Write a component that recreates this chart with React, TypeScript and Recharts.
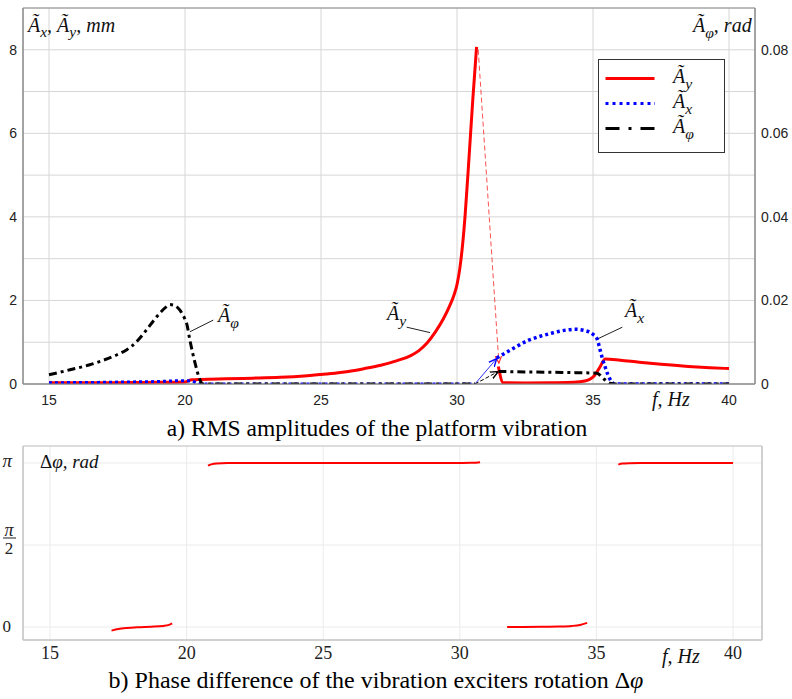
import React from 'react';
import { LineChart, Line, XAxis, YAxis, CartesianGrid, ReferenceArea, ReferenceLine, Legend } from 'recharts';

// ---------- top chart (a): RMS amplitudes ----------
// A_y, mm (low-frequency branch up to the resonance peak)
const ayLowF = [15, 16, 17, 18, 19, 20, 20.25, 20.6, 21.5, 22.5, 23.5, 24.5, 25.2, 26, 26.6, 27.2, 27.8, 28.3, 28.6, 28.9, 29.2, 29.5, 29.75, 29.9, 30.0, 30.1, 30.2, 30.3, 30.42, 30.58, 30.72];
const ayLowV = [0.03, 0.03, 0.03, 0.035, 0.04, 0.05, 0.1, 0.11, 0.125, 0.14, 0.16, 0.2, 0.24, 0.3, 0.37, 0.45, 0.56, 0.68, 0.8, 0.98, 1.24, 1.56, 1.9, 2.15, 2.38, 2.75, 3.3, 4.05, 5.2, 6.8, 8.07];
// A_y, mm (branch after the jump)
const ayHighF = [31.52, 31.7, 32.5, 33.5, 34.3, 34.7, 34.9, 35.05, 35.25, 35.45, 36.0, 36.7, 37.5, 38.5, 39.3, 40];
const ayHighV = [0.42, 0.03, 0.025, 0.03, 0.04, 0.07, 0.12, 0.2, 0.4, 0.6, 0.57, 0.52, 0.47, 0.42, 0.39, 0.37];
// A_x, mm
const axLowF = [15, 16, 17, 18, 19, 20, 20.25, 20.45, 20.6, 25, 30.66];
const axLowV = [0.03, 0.035, 0.04, 0.05, 0.06, 0.08, 0.07, 0.02, 0, 0, 0];
const axHighF = [31.46, 31.8, 32.2, 32.6, 33.0, 33.5, 34.0, 34.35, 34.7, 35.0, 35.15, 35.26, 35.35, 35.45, 35.55, 35.7, 35.8, 40];
const axHighV = [0.62, 0.75, 0.9, 1.04, 1.13, 1.22, 1.29, 1.31, 1.28, 1.19, 1.08, 0.82, 0.6, 0.4, 0.22, 0.04, 0, 0];
// A_phi, rad
const apLowF = [15, 15.77, 16.5, 17.0, 17.5, 17.86, 18.2, 18.59, 18.85, 19.08, 19.3, 19.45, 19.65, 19.82, 20.0, 20.06, 20.18, 20.37, 20.55, 20.66, 25, 30.66];
const apLowV = [0.0022, 0.0034, 0.0046, 0.0057, 0.007, 0.0082, 0.01, 0.013, 0.0152, 0.017, 0.0184, 0.019, 0.0187, 0.0176, 0.0155, 0.0145, 0.0105, 0.005, 0.001, 0, 0, 0];
const apHighF = [31.52, 32.5, 33.5, 34.5, 35.14, 35.4, 35.62, 35.8, 40];
const apHighV = [0.003, 0.0029, 0.0028, 0.0027, 0.0026, 0.0012, 0.0002, 0, 0];
// jumps (thin arrows)
const jumpYF = [30.78, 31.54];
const jumpYV = [8.0, 0.5];
const jumpXF = [30.66, 31.46];
const jumpXV = [0, 0.61];
const jumpPF = [30.66, 31.52];
const jumpPV = [0, 0.003];

const topXTicks = [15, 20, 25, 30, 35, 40];
const leftTicks = [0, 1, 2, 3, 4, 5, 6, 7, 8];
const leftLabels = [0, 2, 4, 6, 8];
const rightTicks = [0, 0.01, 0.02, 0.03, 0.04, 0.05, 0.06, 0.07, 0.08];
const rightLabels = [0, 0.02, 0.04, 0.06, 0.08];

// ---------- bottom chart (b): phase difference, rad ----------
const PI = Math.PI;
const ph1F = [17.25, 17.5, 17.8, 18.2, 18.7, 19.15, 19.35, 19.47];
const ph1V = [-0.07, -0.04, -0.02, -0.005, 0.005, 0.02, 0.04, 0.07];
const ph2F = [20.78, 20.9, 21.1, 21.5, 23, 25, 27, 29, 30.4, 30.6, 30.74];
const ph2V = [3.09, 3.115, 3.134, 3.1416, 3.1416, 3.1416, 3.1416, 3.1416, 3.144, 3.148, 3.157];
const ph3F = [31.73, 32.2, 33, 33.6, 34.1, 34.4, 34.66];
const ph3V = [-0.002, 0, 0.003, 0.008, 0.02, 0.04, 0.08];
const ph4F = [35.8, 35.95, 36.2, 36.6, 38, 40];
const ph4V = [3.11, 3.13, 3.138, 3.1416, 3.1416, 3.1416];
const phTicks = [0, PI / 2, PI];

const zip = (fs: number[], vs: number[]) => fs.map((f, i) => ({ f, v: vs[i] }));

const ayLow = zip(ayLowF, ayLowV);
const ayHigh = zip(ayHighF, ayHighV);
const axLow = zip(axLowF, axLowV);
const axHigh = zip(axHighF, axHighV);
const apLow = zip(apLowF, apLowV);
const apHigh = zip(apHighF, apHighV);
const jumpY = zip(jumpYF, jumpYV);
const jumpX = zip(jumpXF, jumpXV);
const jumpP = zip(jumpPF, jumpPV);
const ph1 = zip(ph1F, ph1V);
const ph2 = zip(ph2F, ph2V);
const ph3 = zip(ph3F, ph3V);
const ph4 = zip(ph4F, ph4V);

const SERIF = "'Liberation Serif', 'Times New Roman', 'DejaVu Serif', serif";
const SANS = "'Liberation Sans', Arial, sans-serif";

const MathA = ({ x, y, sub, size = 19, anchor = 'start', rest = '' }: any) => (
  <text x={x} y={y} fontFamily={SERIF} fontStyle="italic" fontSize={size} fill="#111" textAnchor={anchor}>
    Ã<tspan dy={size * 0.28} fontSize={size * 0.78}>{sub}</tspan>
    {rest ? <tspan dy={-size * 0.28}>{rest}</tspan> : null}
  </text>
);

const LegendBox = () => (
  <div style={{ width: 127, height: 94, boxSizing: 'border-box', border: '1.5px solid #333', background: '#fff' }}>
    <svg width={124} height={91} style={{ display: 'block' }}>
      <line x1={6.5} x2={55.5} y1={18.5} y2={18.5} stroke="#ff0000" strokeWidth={3} />
      <line x1={6.5} x2={56} y1={43.5} y2={43.5} stroke="#0000ff" strokeWidth={3} strokeDasharray="3 4" />
      <line x1={6.5} x2={56} y1={68.5} y2={68.5} stroke="#000" strokeWidth={3} strokeDasharray="14 9 3 9" />
      <MathA x={74} y={23} sub="y" size={20} />
      <MathA x={74} y={48} sub="x" size={20} />
      <MathA x={74} y={73} sub="φ" size={20} />
    </svg>
  </div>
);

const PhaseTick = (props: any) => {
  const { x, y, payload } = props;
  const v = payload.value;
  if (v === 0) {
    return <text x={x - 10} y={y + 5} textAnchor="end" fontFamily={SERIF} fontSize={17} fill="#222">0</text>;
  }
  if (Math.abs(v - PI) < 1e-6) {
    return <text x={x - 9} y={y + 4} textAnchor="end" fontFamily={SERIF} fontStyle="italic" fontSize={19} fill="#222">π</text>;
  }
  return (
    <g>
      <text x={x - 12} y={y - 9} textAnchor="middle" fontFamily={SERIF} fontStyle="italic" fontSize={18} fill="#222">π</text>
      <line x1={x - 18} x2={x - 5} y1={y - 7} y2={y - 7} stroke="#222" strokeWidth={1} />
      <text x={x - 12} y={y + 9} textAnchor="middle" fontFamily={SERIF} fontSize={17} fill="#222">2</text>
    </g>
  );
};

export default function App() {
  return (
    <div style={{ position: 'absolute', left: 0, top: 0, width: 792, height: 699, background: '#fff', overflow: 'hidden' }}>
      <svg width={0} height={0} style={{ position: 'absolute' }}>
        <defs>
          <marker id="arrRed" viewBox="0 0 10 10" refX="9" refY="5" markerWidth="8" markerHeight="8" orient="auto" markerUnits="userSpaceOnUse">
            <path d="M0,1 L9,5 L0,9" fill="none" stroke="#ff3030" strokeWidth="1.5" />
          </marker>
          <marker id="arrBlue" viewBox="0 0 10 10" refX="9" refY="5" markerWidth="9" markerHeight="9" orient="auto" markerUnits="userSpaceOnUse">
            <path d="M0,1 L9,5 L0,9" fill="none" stroke="#0000ff" strokeWidth="1.5" />
          </marker>
          <marker id="arrBlack" viewBox="0 0 10 10" refX="9" refY="5" markerWidth="9" markerHeight="9" orient="auto" markerUnits="userSpaceOnUse">
            <path d="M0,1 L9,5 L0,9" fill="none" stroke="#000" strokeWidth="1.5" />
          </marker>
        </defs>
      </svg>

      <div style={{ position: 'absolute', left: 0, top: 0 }}>
        <LineChart width={792} height={420} margin={{ top: 8, right: 0, bottom: 0, left: 0 }}>
          <CartesianGrid yAxisId="left" stroke="#d6d6d6" strokeWidth={1} />
          <XAxis dataKey="f" type="number" domain={[14.044, 40.956]} ticks={topXTicks} allowDataOverflow
            height={36} tickLine={false} tickSize={0} tickMargin={11} axisLine={{ stroke: '#8c8c8c' }}
            tick={{ fontSize: 14, fill: '#222', fontFamily: SANS }} />
          <YAxis yAxisId="left" type="number" domain={[0, 9]} ticks={leftTicks} allowDataOverflow width={23}
            tickLine={false} tickSize={0} tickMargin={6} axisLine={{ stroke: '#8c8c8c' }}
            tickFormatter={(v: number) => (leftLabels.includes(v) ? String(v) : '')}
            tick={{ fontSize: 14, fill: '#222', fontFamily: SANS }} />
          <YAxis yAxisId="right" orientation="right" type="number" domain={[0, 0.09]} ticks={rightTicks} allowDataOverflow width={37}
            tickLine={false} tickSize={0} tickMargin={6} axisLine={{ stroke: '#8c8c8c' }}
            tickFormatter={(v: number) => (rightLabels.includes(v) ? String(v) : '')}
            tick={{ fontSize: 14, fill: '#222', fontFamily: SANS }} />
          <ReferenceArea yAxisId="left" x1={14.044} x2={40.956} y1={0} y2={9} fill="none" stroke="#8c8c8c" strokeWidth={1} ifOverflow="visible" />

          <ReferenceLine yAxisId="left" segment={[{ x: 21.04, y: 1.53 }, { x: 20.18, y: 1.25 }]} stroke="#222" strokeWidth={1} ifOverflow="visible" />
          <ReferenceLine yAxisId="left" segment={[{ x: 28.15, y: 1.36 }, { x: 29.01, y: 1.23 }]} stroke="#222" strokeWidth={1} ifOverflow="visible" />
          <ReferenceLine yAxisId="left" segment={[{ x: 36.08, y: 1.36 }, { x: 35.17, y: 1.08 }]} stroke="#222" strokeWidth={1} ifOverflow="visible" />

          <Line yAxisId="left" data={jumpY} dataKey="v" type="linear" stroke="#ff5050" strokeWidth={1} strokeDasharray="5 3" dot={false} isAnimationActive={false} markerEnd="url(#arrRed)" />
          <Line yAxisId="left" data={jumpX} dataKey="v" type="linear" stroke="#3030ff" strokeWidth={1} dot={false} isAnimationActive={false} markerEnd="url(#arrBlue)" />
          <Line yAxisId="right" data={jumpP} dataKey="v" type="linear" stroke="#000" strokeWidth={1} strokeDasharray="4 2" dot={false} isAnimationActive={false} markerEnd="url(#arrBlack)" />

          <Line yAxisId="left" data={ayLow} dataKey="v" type="monotone" stroke="#ff0000" strokeWidth={3} dot={false} isAnimationActive={false} />
          <Line yAxisId="left" data={ayHigh} dataKey="v" type="monotone" stroke="#ff0000" strokeWidth={3} dot={false} isAnimationActive={false} />
          <Line yAxisId="left" data={axLow} dataKey="v" type="monotone" stroke="#0000ff" strokeWidth={3} strokeDasharray="3 3" dot={false} isAnimationActive={false} />
          <Line yAxisId="left" data={axHigh} dataKey="v" type="monotone" stroke="#0000ff" strokeWidth={3.5} strokeDasharray="3 3" dot={false} isAnimationActive={false} />
          <Line yAxisId="right" data={apLow} dataKey="v" type="monotone" stroke="#000" strokeWidth={3} strokeDasharray="8 4 3 4" dot={false} isAnimationActive={false} />
          <Line yAxisId="right" data={apHigh} dataKey="v" type="monotone" stroke="#000" strokeWidth={3} strokeDasharray="8 4 3 4" dot={false} isAnimationActive={false} />

          <Legend layout="vertical" align="center" verticalAlign="middle" content={() => <LegendBox />}
            wrapperStyle={{ left: 598, top: 59, width: 127, height: 94, right: 'auto', bottom: 'auto' }} />
        </LineChart>
      </div>

      <div style={{ position: 'absolute', left: 0, top: 440 }}>
        <LineChart width={792} height={259} margin={{ top: 6, right: 0, bottom: 29, left: 0 }}>
          <CartesianGrid yAxisId="l" stroke="#ebebeb" strokeWidth={1} />
          <XAxis dataKey="f" type="number" domain={[14.01, 41.06]} ticks={topXTicks} allowDataOverflow
            height={30} tickLine={false} tickSize={0} tickMargin={6} axisLine={{ stroke: '#c4c4c4' }}
            tick={{ fontSize: 18, fill: '#222', fontFamily: SERIF }} />
          <YAxis yAxisId="l" type="number" domain={[-0.249, 3.467]} ticks={phTicks} allowDataOverflow width={23}
            tickLine={false} tickSize={0} axisLine={{ stroke: '#c4c4c4' }} tick={<PhaseTick />} />
          <YAxis yAxisId="r" orientation="right" type="number" domain={[-0.249, 3.467]} ticks={phTicks} allowDataOverflow width={30}
            tickLine={false} tick={false} axisLine={{ stroke: '#c4c4c4' }} />
          <ReferenceArea yAxisId="l" x1={14.01} x2={41.06} y1={-0.249} y2={3.467} fill="none" stroke="#c4c4c4" strokeWidth={1} ifOverflow="visible" />
          <Line yAxisId="l" data={ph1} dataKey="v" type="monotone" stroke="#ff0000" strokeWidth={2} dot={false} isAnimationActive={false} />
          <Line yAxisId="l" data={ph2} dataKey="v" type="monotone" stroke="#ff0000" strokeWidth={2} dot={false} isAnimationActive={false} />
          <Line yAxisId="l" data={ph3} dataKey="v" type="monotone" stroke="#ff0000" strokeWidth={2} dot={false} isAnimationActive={false} />
          <Line yAxisId="l" data={ph4} dataKey="v" type="monotone" stroke="#ff0000" strokeWidth={2} dot={false} isAnimationActive={false} />
        </LineChart>
      </div>

      <svg width={792} height={699} style={{ position: 'absolute', left: 0, top: 0, pointerEvents: 'none' }}>
        <text x={28} y={32} fontFamily={SERIF} fontStyle="italic" fontSize={20} fill="#111">
          Ã<tspan dy={5} fontSize={15.5}>x</tspan><tspan dy={-5}>, Ã</tspan><tspan dy={5} fontSize={15.5}>y</tspan><tspan dy={-5}>, mm</tspan>
        </text>
        <MathA x={693} y={32} sub="φ" size={20} rest=", rad" />
        <MathA x={218} y={322} sub="φ" size={20} />
        <MathA x={387} y={320} sub="y" size={20} />
        <MathA x={625} y={317} sub="x" size={20} />
        <text x={652} y={406} fontFamily={SERIF} fontStyle="italic" fontSize={20} fill="#111">f, Hz</text>
        <text x={377} y={436} textAnchor="middle" fontFamily={SERIF} fontSize={23.5} fill="#000">a) RMS amplitudes of the platform vibration</text>

        <text x={40} y={468} fontFamily={SERIF} fontSize={19} fill="#111">Δ<tspan fontStyle="italic">φ, rad</tspan></text>
        <text x={662} y={663} fontFamily={SERIF} fontStyle="italic" fontSize={20} fill="#111">f, Hz</text>
        <text x={376} y={688} textAnchor="middle" fontFamily={SERIF} fontSize={24} fill="#000">b) Phase difference of the vibration exciters rotation Δ<tspan fontStyle="italic">φ</tspan></text>
      </svg>
    </div>
  );
}
